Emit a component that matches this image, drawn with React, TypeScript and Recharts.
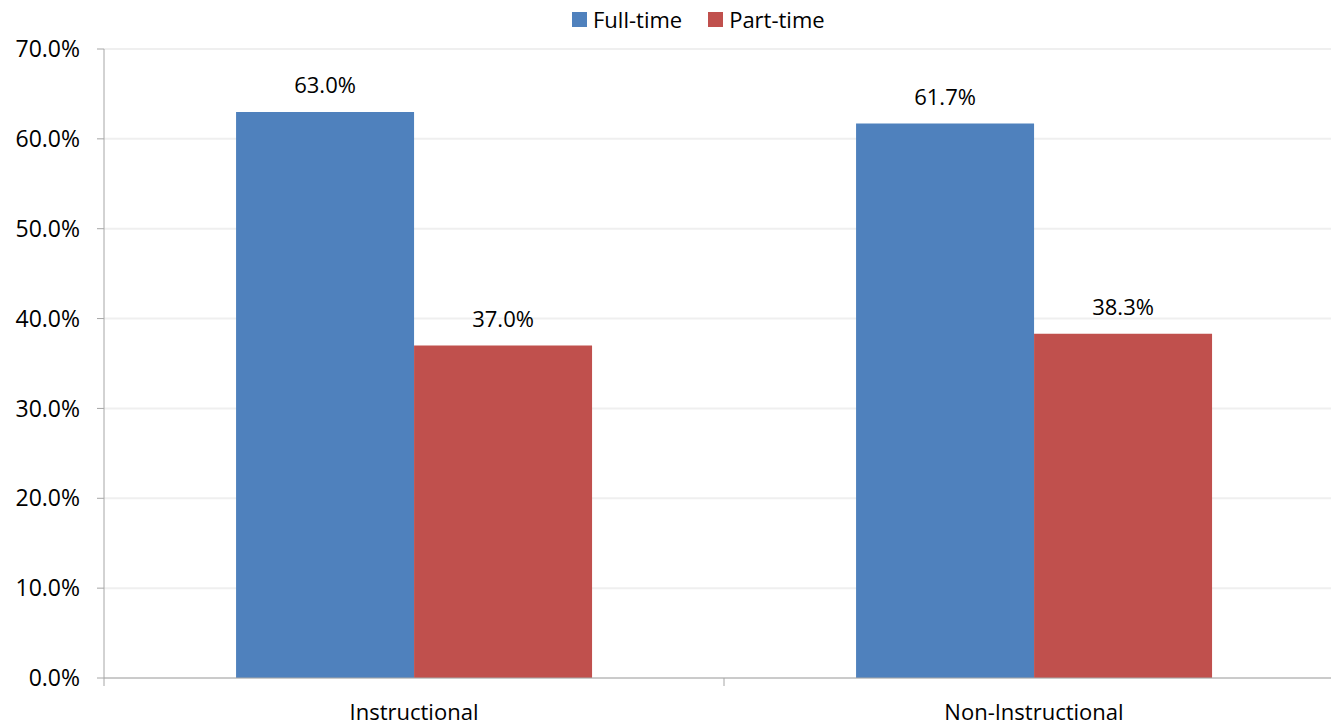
import { BarChart, Bar, XAxis, YAxis, CartesianGrid, Legend, LabelList } from 'recharts';

const categories = ['Instructional', 'Non-Instructional'];
const fullTime = [63.0, 61.7];
const partTime = [37.0, 38.3];
const yTicks = [0, 10, 20, 30, 40, 50, 60, 70];

const data = categories.map((name, i) => ({ name, full: fullTime[i], part: partTime[i] }));

const FONT = '"Open Sans", "Liberation Sans", sans-serif';
const BLUE = '#4F81BD';
const RED = '#C0504D';

const CHART_W = 1350;
const CHART_H = 725;
// legend reserves ~30px on top, so the plot starts at y=49
const MARGIN = { top: 19, right: 6, left: 0, bottom: 0 };
const Y_W = 104;
const PLOT_W = CHART_W - MARGIN.right - MARGIN.left - Y_W;

const pct = (v: any) => `${Number(v).toFixed(1)}%`;

// category axis: label in the middle, tick marks on the band edges
function CatTick(props: any) {
  const { x, y, payload, index } = props;
  const bw = PLOT_W / categories.length;
  const axisY = y - 26;
  return (
    <g>
      {index === 0 && <line x1={x - bw / 2} x2={x - bw / 2} y1={axisY} y2={axisY + 8} stroke="#a6a6a6" />}
      <line x1={x + bw / 2} x2={x + bw / 2} y1={axisY} y2={axisY + 8} stroke="#a6a6a6" />
      <text x={x} y={y} dy="0.71em" textAnchor="middle" fill="#000" fontSize={22} fontFamily={FONT}>
        {payload.value}
      </text>
    </g>
  );
}

function LegendBox() {
  const items = [
    { label: 'Full-time', color: BLUE },
    { label: 'Part-time', color: RED },
  ];
  return (
    <div style={{ display: 'flex', gap: 26, fontFamily: FONT, fontSize: 22, color: '#000', lineHeight: '30px' }}>
      {items.map((it) => (
        <div key={it.label} style={{ display: 'flex', alignItems: 'center', gap: 6 }}>
          <span style={{ width: 15, height: 15, background: it.color, display: 'inline-block' }} />
          <span>{it.label}</span>
        </div>
      ))}
    </div>
  );
}

export default function App() {
  return (
    <div style={{ position: 'absolute', left: 0, top: 0, width: 1331, height: 725, overflow: 'hidden', background: '#fff' }}>
      <BarChart width={CHART_W} height={CHART_H} data={data} margin={MARGIN} barCategoryGap="21.3%" barGap={0}>
        <CartesianGrid vertical={false} stroke="#efefef" strokeWidth={2} />
        <XAxis
          dataKey="name"
          height={47}
          axisLine={{ stroke: '#a6a6a6' }}
          tickLine={false}
          tickSize={8}
          tickMargin={18}
          tick={<CatTick />}
          interval={0}
        />
        <YAxis
          width={Y_W}
          domain={[0, 70]}
          ticks={yTicks}
          tickFormatter={pct}
          axisLine={{ stroke: '#a6a6a6' }}
          tickLine={{ stroke: '#a6a6a6' }}
          tickSize={7}
          tickMargin={17}
          tick={{ fill: '#000', fontSize: 23, fontFamily: FONT }}
        />
        <Legend
          verticalAlign="top"
          content={<LegendBox />}
          wrapperStyle={{ top: 4, left: 572, width: 'auto', height: 30 }}
        />
        <Bar dataKey="full" name="Full-time" fill={BLUE} isAnimationActive={false}>
          <LabelList dataKey="full" position="top" offset={19} formatter={pct} fill="#000" fontSize={22} fontFamily={FONT} />
        </Bar>
        <Bar dataKey="part" name="Part-time" fill={RED} isAnimationActive={false}>
          <LabelList dataKey="part" position="top" offset={19} formatter={pct} fill="#000" fontSize={22} fontFamily={FONT} />
        </Bar>
      </BarChart>
    </div>
  );
}
